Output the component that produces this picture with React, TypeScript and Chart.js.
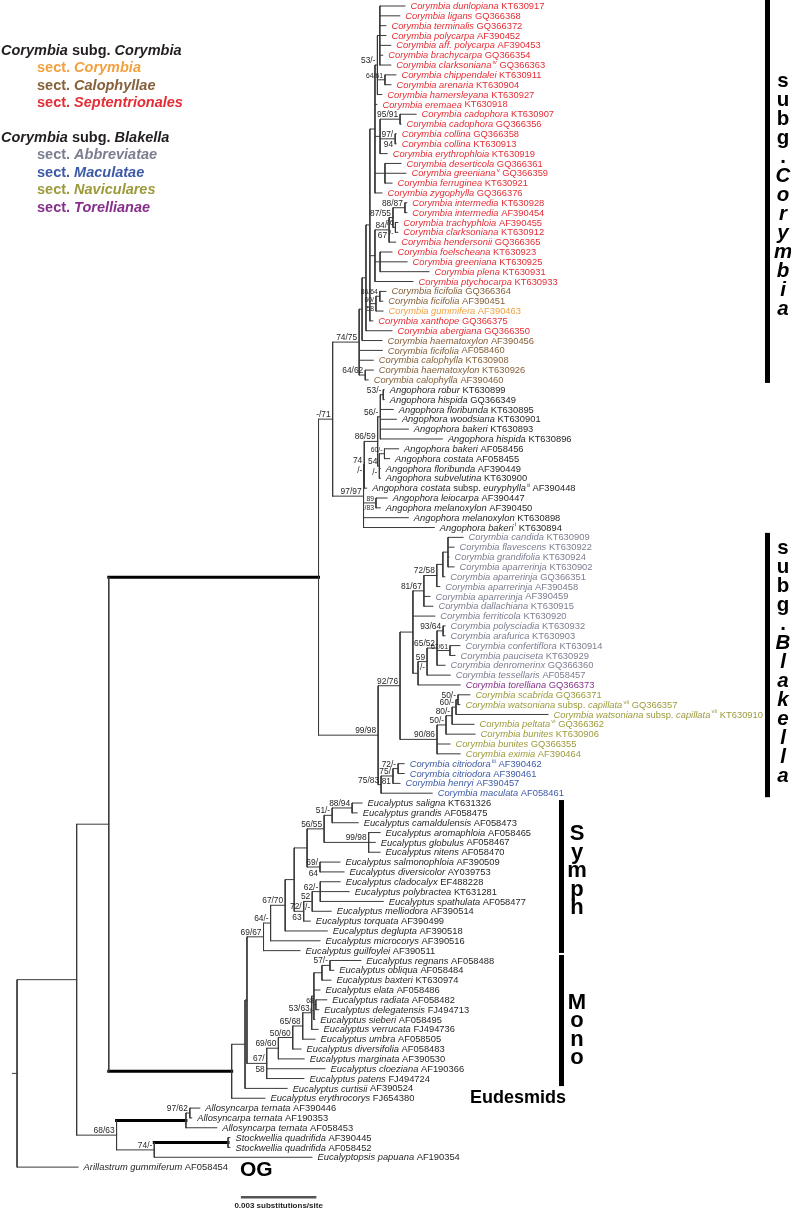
import React, { useEffect, useRef } from "react";
import { Chart, registerables } from "chart.js";

Chart.register(...registerables);

// ---------------- page / layout constants ----------------
const WIDTH = 791;
const HEIGHT = 1209;
const FAMILY = '"Liberation Sans", Arial, Helvetica, sans-serif';

// ---------------- data ----------------
// Tips, top to bottom (italic part of the label)
const taxa = [
  "Corymbia dunlopiana", "Corymbia ligans", "Corymbia terminalis", "Corymbia polycarpa",
  "Corymbia aff. polycarpa", "Corymbia brachycarpa", "Corymbia clarksoniana", "Corymbia chippendalei",
  "Corymbia arenaria", "Corymbia hamersleyana", "Corymbia eremaea", "Corymbia cadophora",
  "Corymbia cadophora", "Corymbia collina", "Corymbia collina", "Corymbia erythrophloia",
  "Corymbia deserticola", "Corymbia greeniana", "Corymbia ferruginea", "Corymbia zygophylla",
  "Corymbia intermedia", "Corymbia intermedia", "Corymbia trachyphloia", "Corymbia clarksoniana",
  "Corymbia hendersonii", "Corymbia foelscheana", "Corymbia greeniana", "Corymbia plena",
  "Corymbia ptychocarpa", "Corymbia ficifolia", "Corymbia ficifolia", "Corymbia gummifera",
  "Corymbia xanthope", "Corymbia abergiana", "Corymbia haematoxylon", "Corymbia ficifolia",
  "Corymbia calophylla", "Corymbia haematoxylon", "Corymbia calophylla",
  "Angophora robur", "Angophora hispida", "Angophora floribunda", "Angophora woodsiana",
  "Angophora bakeri", "Angophora hispida", "Angophora bakeri", "Angophora costata",
  "Angophora floribunda", "Angophora subvelutina", "Angophora costata subsp. euryphylla",
  "Angophora leiocarpa", "Angophora melanoxylon", "Angophora melanoxylon", "Angophora bakeri",
  "Corymbia candida", "Corymbia flavescens", "Corymbia grandifolia", "Corymbia aparrerinja",
  "Corymbia aparrerinja", "Corymbia aparrerinja", "Corymbia aparrerinja", "Corymbia dallachiana",
  "Corymbia ferriticola", "Corymbia polysciadia", "Corymbia arafurica", "Corymbia confertiflora",
  "Corymbia pauciseta", "Corymbia denromerinx", "Corymbia tessellaris", "Corymbia torelliana",
  "Corymbia scabrida", "Corymbia watsoniana subsp. capillata", "Corymbia watsoniana subsp. capillata",
  "Corymbia peltata", "Corymbia bunites", "Corymbia bunites", "Corymbia eximia",
  "Corymbia citriodora", "Corymbia citriodora", "Corymbia henryi", "Corymbia maculata",
  "Eucalyptus saligna", "Eucalyptus grandis", "Eucalyptus camaldulensis", "Eucalyptus aromaphloia",
  "Eucalyptus globulus", "Eucalyptus nitens", "Eucalyptus salmonophloia", "Eucalyptus diversicolor",
  "Eucalyptus cladocalyx", "Eucalyptus polybractea", "Eucalyptus spathulata", "Eucalyptus melliodora",
  "Eucalyptus torquata", "Eucalyptus deglupta", "Eucalyptus microcorys", "Eucalyptus guilfoylei",
  "Eucalyptus regnans", "Eucalyptus obliqua", "Eucalyptus baxteri", "Eucalyptus elata",
  "Eucalyptus radiata", "Eucalyptus delegatensis", "Eucalyptus sieberi", "Eucalyptus verrucata",
  "Eucalyptus umbra", "Eucalyptus diversifolia", "Eucalyptus marginata", "Eucalyptus cloeziana",
  "Eucalyptus patens", "Eucalyptus curtisii", "Eucalyptus erythrocorys",
  "Allosyncarpa ternata", "Allosyncarpa ternata", "Allosyncarpa ternata",
  "Stockwellia quadrifida", "Stockwellia quadrifida", "Eucalyptopsis papuana", "Arillastrum gummiferum",
];

const accessions = [
  "KT630917", "GQ366368", "GQ366372", "AF390452", "AF390453", "GQ366354", "GQ366363", "KT630911",
  "KT630904", "KT630927", "KT630918", "KT630907", "GQ366356", "GQ366358", "KT630913", "KT630919",
  "GQ366361", "GQ366359", "KT630921", "GQ366376", "KT630928", "AF390454", "AF390455", "KT630912",
  "GQ366365", "KT630923", "KT630925", "KT630931", "KT630933", "GQ366364", "AF390451", "AF390463",
  "GQ366375", "GQ366350", "AF390456", "AF058460", "KT630908", "KT630926", "AF390460",
  "KT630899", "GQ366349", "KT630895", "KT630901", "KT630893", "KT630896", "AF058456", "AF058455",
  "AF390449", "KT630900", "AF390448", "AF390447", "AF390450", "KT630898", "KT630894",
  "KT630909", "KT630922", "KT630924", "KT630902", "GQ366351", "AF390458", "AF390459", "KT630915",
  "KT630920", "KT630932", "KT630903", "KT630914", "KT630929", "GQ366360", "AF058457", "GQ366373",
  "GQ366371", "GQ366357", "KT630910", "GQ366362", "KT630906", "GQ366355", "AF390464",
  "AF390462", "AF390461", "AF390457", "AF058461",
  "KT631326", "AF058475", "AF058473", "AF058465", "AF058467", "AF058470", "AF390509", "AY039753",
  "EF488228", "KT631281", "AF058477", "AF390514", "AF390499", "AF390518", "AF390516", "AF390511",
  "AF058488", "AF058484", "KT630974", "AF058486", "AF058482", "FJ494713", "AF058495", "FJ494736",
  "AF058505", "AF058483", "AF390530", "AF190366", "FJ494724", "AF390524", "FJ654380",
  "AF390446", "AF190353", "AF058453", "AF390445", "AF058452", "AF190354", "AF058454",
];

// footnote superscripts: [tip number (1-based), mark]
const tipSuperscripts: [number, string][] = [
  [7, "iv"], [18, "v"], [50, "ii"], [54, "i"], [72, "vii"], [73, "vii"], [74, "vi"], [78, "iii"],
];

// section of each tip, as consecutive runs [section, count]
const sectionRuns: [string, number][] = [
  ["Septentrionales", 29], ["Calophyllae", 2], ["Corymbia", 1], ["Septentrionales", 2],
  ["Calophyllae", 5], ["none", 15], ["Abbreviatae", 15], ["Torellianae", 1],
  ["Naviculares", 7], ["Maculatae", 4], ["none", 38],
];

const sectionColors: Record<string, string> = {
  Corymbia: "#f2a13e",
  Calophyllae: "#86613a",
  Septentrionales: "#e42d35",
  Abbreviatae: "#7b7e90",
  Maculatae: "#3d5aa7",
  Naviculares: "#9c9a3b",
  Torellianae: "#86308b",
  none: "#231f20",
};

// legend
const subgCorymbiaSections = ["Corymbia", "Calophyllae", "Septentrionales"];
const subgBlakellaSections = ["Abbreviatae", "Maculatae", "Naviculares", "Torellianae"];

// Tree: Newick-style, branch lengths in 0.0001 substitutions/site,
// internal labels = support "ML/BI" ("|" splits above/below, "~" small),
// "!" marks a bold branch.
const septentrionalesA =
  "(((t1:10.3,t2:8.2,t3:2.5,t4:2.5,t5:4.5,t6:1.2,t7:4.5):1.0,(t8:4.5,t9:2.5)~64/61:3.1,t10:1.8)53/-:1.0," +
  "t11:0.8,((t12:6.6,t13:0.4)95/91:8.2,(t14:0.4,t15:0.4)97/|94:6.2,t16:2.9):2.1," +
  "(t17:6.6,t18:8.6,t19:2.9):4.1,t20:2.9)";
const septentrionalesB =
  "((((t21:0.8,t22:0.8)88/87:4.9,(t23:1.0,t24:1.0)~76|/-:1.0)87/55:1.6,t25:2.7)84/|67:5.8," +
  "(t26:4.9,t27:11.1,t28:20.1):2.1,t29:15.6)";
const ficifoliaGroup = "((t30:2.5,t31:1.2)~86/64:1.6,t32:2.9)~60/|58";
const subgCorymbia =
  "((((" + septentrionalesA + ":2.1," + septentrionalesB + ":2.1," + ficifoliaGroup +
  ":2.5,t33:1.2):1.6,t34:10.7):1.6,t35:8.2):1.2,t36:9.5,t37:5.8,(t38:3.3,t39:1.2)64/62:2.5)74/75";
const angophora =
  "(((((t40:0.4,t41:0.4)53/-:1.2,t42:5.3,t43:6.6,t44:11.5,t45:25.5)56/-:1.1," +
  "((t46:5.8,t47:2.1)~60/-:2.1,t48:0.4,t49:0.4)54|/-:0.7)86/59:5.5,t50:1.0)74|/-:0.3," +
  "(t51:4.6,t52:1.8)~89|/83:5.1,t53:18.4,t54:29.1)97/97";
const blakellaCore =
  "(((((t55:6.2,t56:2.5,t57:0.4,t58:2.5):2.1,t59:0.8):2.5,t60:1.2)72/58:5.3,t61:2.5,t62:3.7)81/67:4.5," +
  "t63:9.0,((((t64:0.8,t65:0.8)93/64:2.5,(t66:4.1,t67:2.1)~67/61:5.3,t68:3.3)65/52:4.1,t69:9.5)59|/-:3.7," +
  "t70:17.3):2.1)";
const naviculares =
  "(((((t71:4.9,t72:0.8)50/-:0.8,t73:37.8)60/-:1.6,t74:9.0)80/-:2.5,t75:11.9)50/-:3.7,t76:5.3,t77:9.5)90/86";
const maculatae = "(((t78:2.5,t79:2.5)72/-:2.1,t80:2.9)75/|81:4.9,t81:21.0)75/83";
const subgBlakella = "((" + blakellaCore + ":5.3," + naviculares + ":15.2)92/76:9.0," + maculatae + ":1.2)99/98";
const corymbiaAngophora =
  "((" + subgCorymbia + ":10.9," + angophora + ":12.7)-/71:5.8," + subgBlakella + ":24.5)";
const symphyomyrtus =
  "((((((((t82:4.1,t83:2.1)88/94:8.2,t84:10.7)51/-:3.3,(t85:4.7,t86:2.7,t87:4.7)99/98:18.3)56/55:7.0," +
  "(t88:8.2,t89:9.9)69/|64:5.3):5.3,(((t90:8.2,t91:11.9,t92:25.9)62/-:3.3,t93:7.8)52|/-:3.5,t94:2.7)72/|63:3.9):3.7," +
  "t95:17.3)67/70:6.0,t96:20.3)64/-:2.9,t97:15.0)69/67";
const monocalyptus =
  "((((((((t98:12.7,t99:1.6)57/-:3.3,t100:3.7):3.3,t101:2.5,(t102:4.5,t103:1.2)~68|/-:0.8,t104:0.4):0.9," +
  "t105:2.6)53/63:3.7,t106:5.1)65/68:4.1,t107:3.4)50/60:5.9,t108:10.6)69/60:4.8,t109:24.0,t110:15.3)67/|58";
const eucalyptus = "(((" + symphyomyrtus + ":6.8," + monocalyptus + ":8.1):0.8,t111:17.3):5.5,t112:13.7)";
const outgroups =
  "(((t113:4.1,t114:0.8)97/62:1.6,t115:12.7):28.5!,((t116:0.8,t117:0.8):30.3!,t118:64.8)74/-:15.5)68/63";
const treeNewick =
  "(((" + corymbiaAngophora + ":86.2!," + eucalyptus + ":50.5!):13.2," + outgroups + ":16.4):24.5,t119:25.1);";

const SCALE_BAR_LENGTH = 30; // 0.003 substitutions/site
const SCALE_BAR_LABEL = "0.003 substitutions/site";
const ROOT_STUB = 2;

// ---------------- axis mapping (layout) ----------------
const PX_PER_UNIT = 73 / SCALE_BAR_LENGTH;
const X_MIN = -7;
const X_MAX = X_MIN + WIDTH / PX_PER_UNIT;
const ROW_PX = 9.84;
const Y_MIN = -6 / ROW_PX;
const Y_MAX = Y_MIN + HEIGHT / ROW_PX;

type TNode = {
  children: TNode[];
  len: number;
  label: string;
  thick: boolean;
  tip: number;
  x: number;
  y: number;
  parent: TNode | null;
};

function parseTree(s: string): TNode {
  let i = 0;
  function node(): TNode {
    const n: TNode = { children: [], len: 0, label: "", thick: false, tip: -1, x: 0, y: 0, parent: null };
    if (s[i] === "(") {
      i++;
      n.children.push(node());
      while (s[i] === ",") {
        i++;
        n.children.push(node());
      }
      i++; // ')'
    }
    let lab = "";
    while (i < s.length && ":,);".indexOf(s[i]) < 0) lab += s[i++];
    if (n.children.length === 0) n.tip = parseInt(lab.slice(1), 10) - 1;
    else n.label = lab;
    if (s[i] === ":") {
      i++;
      let num = "";
      while (i < s.length && /[0-9.]/.test(s[i])) num += s[i++];
      n.len = parseFloat(num);
    }
    if (s[i] === "!") {
      n.thick = true;
      i++;
    }
    n.children.forEach((c) => (c.parent = n));
    return n;
  }
  return node();
}

function layoutTree(n: TNode, depth: number) {
  n.x = depth;
  if (n.children.length === 0) {
    n.y = n.tip;
    return;
  }
  n.children.forEach((c) => layoutTree(c, depth + c.len));
  n.y = (n.children[0].y + n.children[n.children.length - 1].y) / 2;
}

function collect(n: TNode, out: TNode[]) {
  out.push(n);
  n.children.forEach((c) => collect(c, out));
}

function tipSections(): string[] {
  const out: string[] = [];
  sectionRuns.forEach(([s, k]) => {
    for (let j = 0; j < k; j++) out.push(s);
  });
  return out;
}

type Seg = { t: string; f: string; dy?: number };
function drawSegs(ctx: CanvasRenderingContext2D, x: number, y: number, segs: Seg[]) {
  for (const s of segs) {
    ctx.font = s.f;
    ctx.fillText(s.t, x, y + (s.dy || 0));
    x += ctx.measureText(s.t).width;
  }
  return x;
}

export default function App() {
  const ref = useRef<HTMLCanvasElement | null>(null);

  useEffect(() => {
    const canvas = ref.current;
    if (!canvas) return;
    const root = parseTree(treeNewick);
    layoutTree(root, 0);
    const nodes: TNode[] = [];
    collect(root, nodes);
    const sections = tipSections();
    const supMap: Record<number, string> = {};
    tipSuperscripts.forEach(([k, m]) => (supMap[k - 1] = m));

    const LINE = "#3a3a3a";
    const datasets: any[] = [];
    const seg = (x1: number, y1: number, x2: number, y2: number, thick: boolean, color?: string, w?: number) =>
      datasets.push({
        data: [{ x: x1, y: y1 }, { x: x2, y: y2 }],
        showLine: true,
        borderColor: color || (thick ? "#000" : LINE),
        borderWidth: w || (thick ? 3 : 1),
        borderCapStyle: "square",
        pointRadius: 0,
        pointHoverRadius: 0,
        fill: false,
        tension: 0,
      });

    nodes.forEach((n) => {
      if (n.children.length) {
        seg(n.x, n.children[0].y, n.x, n.children[n.children.length - 1].y, false);
      }
      if (n.parent) seg(n.parent.x, n.y, n.x, n.y, n.thick);
    });
    seg(-ROOT_STUB, root.y, 0, root.y, false);
    // scale bar
    const SB_X = 92.5;
    const SB_Y = 121.05;
    seg(SB_X, SB_Y, SB_X + SCALE_BAR_LENGTH, SB_Y, false, "#555", 2.5);

    const TIP_FONT = 9.35;
    const ITAL = `italic ${TIP_FONT}px ${FAMILY}`;
    const NORM = `${TIP_FONT}px ${FAMILY}`;
    const SUP = `6px ${FAMILY}`;

    const textPlugin = {
      id: "treeText",
      afterDatasetsDraw(chart: any) {
        const ctx: CanvasRenderingContext2D = chart.ctx;
        const xs = chart.scales.x;
        const ys = chart.scales.y;
        const X = (v: number) => xs.getPixelForValue(v);
        const Y = (v: number) => ys.getPixelForValue(v);
        ctx.save();

        // tip labels
        ctx.textAlign = "left";
        ctx.textBaseline = "middle";
        nodes.forEach((n) => {
          if (n.tip < 0) return;
          const i = n.tip;
          ctx.fillStyle = sectionColors[sections[i]];
          const [a, b] = taxa[i].split(" subsp. ");
          const segs: Seg[] = [{ t: a, f: ITAL }];
          if (b) segs.push({ t: " subsp. ", f: NORM }, { t: b, f: ITAL });
          if (supMap[i]) segs.push({ t: "\u2009" + supMap[i], f: SUP, dy: -3.2 });
          segs.push({ t: " " + accessions[i], f: NORM });
          drawSegs(ctx, X(n.x) + 5.5, Y(n.y) + 0.5, segs);
        });

        // support values
        ctx.fillStyle = "#231f20";
        ctx.textAlign = "right";
        nodes.forEach((n) => {
          if (!n.label) return;
          const small = n.label[0] === "~";
          const parts = n.label.replace("~", "").split("|");
          ctx.font = `${small ? 6.8 : 8.4}px ${FAMILY}`;
          const px = X(n.x) - 2;
          const py = Y(n.y);
          ctx.textBaseline = "alphabetic";
          ctx.fillText(parts[0], px, py - 2);
          if (parts.length > 1) {
            ctx.textBaseline = "top";
            ctx.fillText(parts[1], px, py + 2);
          }
        });

        // clade bars
        ctx.fillStyle = "#000";
        const bar = (x: number, from: number, to: number, padTop: number, padBottom: number) => {
          const top = Y(from - 1) - padTop;
          const bottom = Y(to - 1) + padBottom;
          ctx.fillRect(x, top, 5, bottom - top);
        };
        bar(765, 1, 39, 7, 3);
        bar(765, 55, 81, 4.5, 4);
        bar(559, 82, 97, 3, 2.3);
        bar(559, 98, 110, 5.5, 7.5);

        // vertical clade names
        ctx.textAlign = "center";
        ctx.textBaseline = "alphabetic";
        const vertical = (x: number, y0: number, step: number, text: string, italicFrom: number, size: number) => {
          text.split("").forEach((ch, k) => {
            ctx.font = `${k >= italicFrom ? "italic " : ""}bold ${size}px ${FAMILY}`;
            ctx.fillText(ch, x, y0 + step * k);
          });
        };
        vertical(783, 86.5, 19.08, "subg.Corymbia", 5, 20.5);
        vertical(783, 553.5, 19.08, "subg.Blakella", 5, 20.5);
        vertical(577, 840, 18.6, "Symph", 99, 22);
        vertical(577, 1009, 18.3, "Mono", 99, 22);

        ctx.textAlign = "left";
        ctx.textBaseline = "middle";
        ctx.font = `bold 18px ${FAMILY}`;
        ctx.fillText("Eudesmids", 470, 1098);
        ctx.font = `bold 21px ${FAMILY}`;
        ctx.fillText("OG", 240, 1170);

        // scale bar label
        ctx.textAlign = "center";
        ctx.textBaseline = "alphabetic";
        ctx.font = `bold 8px ${FAMILY}`;
        ctx.fillStyle = "#231f20";
        ctx.fillText(SCALE_BAR_LABEL, X(SB_X + SCALE_BAR_LENGTH / 2), 1208);

        // legend
        ctx.textAlign = "left";
        ctx.textBaseline = "middle";
        const LS = 14.5;
        const B = `bold ${LS}px ${FAMILY}`;
        const BI = `italic bold ${LS}px ${FAMILY}`;
        const rowY = (k: number) => 50.7 + 17.45 * k;
        let row = 0;
        const header = (name: string) => {
          ctx.fillStyle = "#231f20";
          drawSegs(ctx, 1, rowY(row), [
            { t: "Corymbia", f: BI },
            { t: " subg. ", f: B },
            { t: name, f: BI },
          ]);
          row++;
        };
        const sect = (name: string) => {
          ctx.fillStyle = sectionColors[name];
          drawSegs(ctx, 37, rowY(row), [
            { t: "sect. ", f: B },
            { t: name, f: BI },
          ]);
          row++;
        };
        header("Corymbia");
        subgCorymbiaSections.forEach(sect);
        row++;
        header("Blakella");
        subgBlakellaSections.forEach(sect);

        ctx.restore();
      },
    };

    const chart = new Chart(canvas, {
      type: "scatter",
      data: { datasets },
      options: {
        responsive: false,
        animation: false,
        devicePixelRatio: 1,
        events: [],
        layout: { padding: 0 },
        scales: {
          x: { type: "linear", min: X_MIN, max: X_MAX, display: false },
          y: { type: "linear", min: Y_MIN, max: Y_MAX, reverse: true, display: false },
        },
        plugins: { legend: { display: false }, tooltip: { enabled: false } },
      },
      plugins: [textPlugin],
    } as any);

    return () => chart.destroy();
  }, []);

  return (
    <div style={{ position: "absolute", left: 0, top: 0, width: WIDTH, height: HEIGHT, background: "#fff" }}>
      <canvas ref={ref} width={WIDTH} height={HEIGHT} style={{ display: "block", width: WIDTH, height: HEIGHT }} />
    </div>
  );
}
